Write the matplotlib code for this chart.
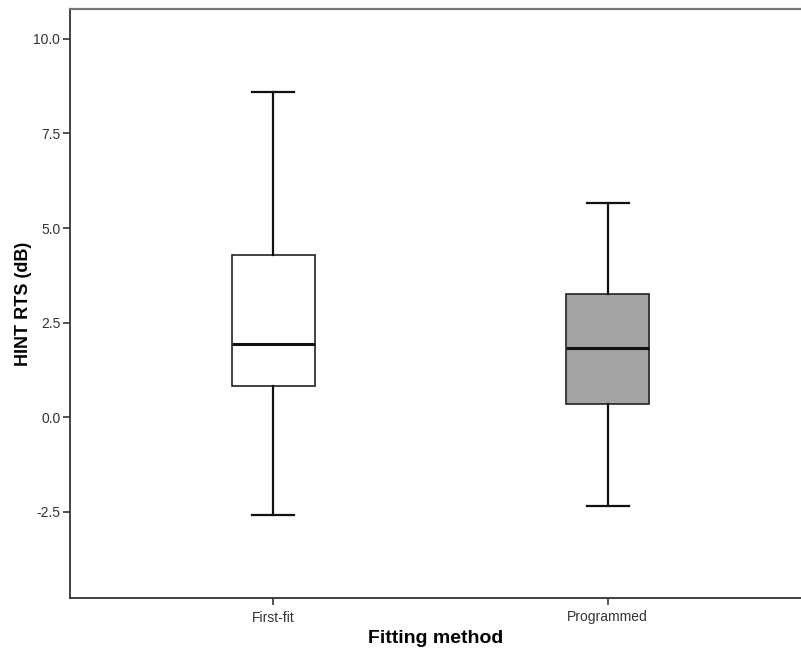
import numpy as np
import matplotlib
matplotlib.use("Agg")
import matplotlib.pyplot as plt

plt.rcParams['font.family'] = ['Liberation Sans', 'DejaVu Sans']

# box plot summary values (dB)
groups = ['First-fit', 'Programmed']
whislo = [-2.59, -2.35]
q1 = [0.82, 0.36]
med = [1.93, 1.83]
q3 = [4.29, 3.25]
whishi = [8.6, 5.67]
fills = ['white', '#a3a3a3']

stats = []
for i in range(len(groups)):
    stats.append({'label': groups[i], 'whislo': whislo[i], 'q1': q1[i],
                  'med': med[i], 'q3': q3[i], 'whishi': whishi[i], 'fliers': []})

fig = plt.figure(figsize=(8.01, 6.52), dpi=100)
ax = fig.add_axes([70 / 801, 1 - 598 / 652, 731 / 801, 589 / 652])

bp = ax.bxp(stats, positions=[1, 2], widths=0.249, capwidths=0.126,
            patch_artist=True, showfliers=False,
            boxprops=dict(linewidth=1.2, edgecolor='#222222'),
            whiskerprops=dict(linewidth=1.6, color='#111111'),
            capprops=dict(linewidth=1.6, color='#111111'),
            medianprops=dict(linewidth=2.2, color='#111111'))
for patch, c in zip(bp['boxes'], fills):
    patch.set_facecolor(c)

ax.set_xlim(0.392, 2.578)
ax.set_ylim(-4.78, 10.79)
ax.set_yticks([-2.5, 0.0, 2.5, 5.0, 7.5, 10.0])
ax.set_yticklabels(['-2.5', '0.0', '2.5', '5.0', '7.5', '10.0'])
ax.set_xticks([1, 2])
ax.set_xticklabels(groups)

ax.tick_params(axis='both', direction='out', length=5, width=1.2,
               color='#333333', labelsize=10, labelcolor='#333333')
ax.tick_params(axis='y', pad=2)
ax.tick_params(axis='x', pad=4)

for s in ['left', 'bottom']:
    ax.spines[s].set_color('#333333')
    ax.spines[s].set_linewidth(1.3)
ax.spines['top'].set_color('#777777')
ax.spines['top'].set_linewidth(1.6)
ax.spines['right'].set_visible(False)

ax.set_ylabel('HINT RTS (dB)', fontsize=13, fontweight='bold', labelpad=1)
ax.set_xlabel('Fitting method', fontsize=14, fontweight='bold', labelpad=4)

fig.savefig('out.png', dpi=100)
